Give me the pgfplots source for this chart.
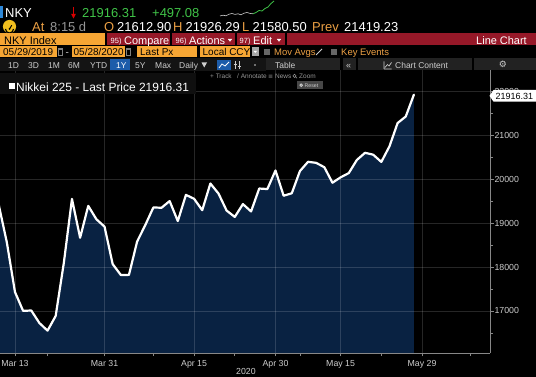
\documentclass[border=0pt]{standalone}
\usepackage{fontspec}
\setmainfont{Liberation Sans}
\newfontfamily\dejavu{DejaVu Sans}
\usepackage{pgfplots}
\pgfplotsset{compat=1.18}
\usepackage{pgfplotstable}
\definecolor{navy}{RGB}{9,34,66}
\definecolor{bbred}{RGB}{150,24,40}
\definecolor{bborange}{RGB}{246,166,52}
\definecolor{amber}{RGB}{236,160,68}
\definecolor{bbgreen}{RGB}{64,196,72}
\definecolor{lgrey}{RGB}{205,205,205}
\definecolor{mgrey}{RGB}{150,150,150}
\definecolor{axisgrey}{RGB}{135,135,135}
\definecolor{bblue}{RGB}{45,135,215}
\definecolor{selblue}{RGB}{28,92,170}
\definecolor{rowbg}{RGB}{20,20,20}
\definecolor{rowbgr}{RGB}{34,34,34}
\definecolor{gaugey}{RGB}{240,190,30}
\newcommand{\fs}[1]{\fontsize{#1}{#1}\selectfont}

\pgfplotstableread{
i v
-2 19416.67
-1 18559.63
0 17431.05
1 17002.04
2 17011.53
3 16726.55
4 16552.83
5 16887.78
6 18092.35
7 19546.63
8 18664.60
9 19389.43
10 19084.97
11 18917.01
12 18065.41
13 17818.72
14 17820.19
15 18576.30
16 18950.18
17 19353.24
18 19345.77
19 19498.50
20 19043.40
21 19638.81
22 19550.09
23 19290.20
24 19897.26
25 19669.12
26 19280.78
27 19137.95
28 19429.44
29 19262.00
30 19783.22
31 19771.19
32 20193.69
33 19619.35
34 19674.77
35 20179.09
36 20390.66
37 20366.48
38 20267.05
39 19914.78
40 20037.47
41 20133.73
42 20433.45
43 20595.15
44 20552.31
45 20388.16
46 20741.65
47 21271.17
48 21419.23
49 21916.31
}\nky

\pgfplotstableread{
x h
220 2.0
223 2.8
226 2.2
229 3.8
232 4.5
235 3.6
238 4.2
241 3.2
244 4.8
247 5.5
250 4.6
253 4.2
}\sparkA
\pgfplotstableread{
x h
253 4.2
256 5.5
259 7.5
262 7.0
265 9.5
268 11.0
271 14.5
274 17.0
}\sparkB

\begin{document}
\begin{tikzpicture}[x=1bp,y=1bp]
\path[use as bounding box] (0bp,0bp) rectangle (536bp,377bp);
\fill[black] (0bp,0bp) rectangle (536bp,377bp);
\clip (0bp,0bp) rectangle (536bp,377bp);

\begin{axis}[
  at={(0bp,24bp)}, anchor=south west, scale only axis,
  width=490bp, height=283bp,
  xmin=-1.84, xmax=58.35, ymin=16045, ymax=22477,
  axis on top,
  scaled x ticks=false, scaled y ticks=false,
  axis x line*=bottom, axis y line*=right,
  axis line style={draw=axisgrey, line width=0.8bp},
  xtick={0,11,22,32,40,50},
  xticklabels={Mar 13,Mar 31,Apr 15,Apr 30,May 15,May 29},
  minor xtick={4,17,27,35,45,56},
  ytick={17000,18000,19000,20000,21000,22000},
  yticklabels={17000,18000,19000,20000,21000,22000},
  minor ytick={16500,17500,18500,19500,20500,21500},
  tick align=outside,
  major tick length=3.5bp, minor tick length=3bp,
  tick style={draw=axisgrey, line width=0.8bp},
  xmajorgrids, ymajorgrids,
  major grid style={draw=white, opacity=0.15, line width=0.6bp},
  tick label style={font=\fs{8.8}, text=lgrey},
  yticklabel style={xshift=-2.5bp},
]
\addplot[fill=navy, draw=none] table[x=i,y=v]{\nky} \closedcycle;
\addplot[white, line width=2.2bp, line join=round, line cap=round] table[x=i,y=v]{\nky};
\end{axis}

\begin{axis}[at={(213bp,359bp)}, anchor=south west, scale only axis,
  width=62bp, height=18bp, xmin=213, xmax=275, ymin=0, ymax=18,
  hide axis, clip=false]
\addplot[lgrey, line width=0.6bp] table[x=x,y=h]{\sparkA};
\addplot[bbgreen, line width=0.8bp] table[x=x,y=h]{\sparkB};
\end{axis}

\begin{scope}[x=1bp,y=-1bp,shift={(0,-377)}]
 \tikzset{t/.style={anchor=base west, inner sep=0pt}}
 % row 1
 \fill[bblue] (0.5,6) rectangle (3.5,18.5);
 \node[t, font=\fs{13}, text=white] at (5,17.5) {NKY};
 \draw[red!85!black, line width=1bp] (73.5,7) -- (73.5,15);
 \fill[red!85!black] (71.2,14) -- (75.8,14) -- (73.5,18.5) -- cycle;
 \node[t, font=\fs{13}, text=bbgreen] at (82,17.5) {21916.31};
 \node[t, font=\fs{13}, text=bbgreen] at (152,17.5) {+497.08};
 % row 2
 \fill[gaugey] (9.5,26.5) circle (6.6);
 \draw[black, line width=1.1bp] (5.5,29) arc (180:360:4 and -4);
 \draw[black, line width=1bp] (9.5,29) -- (11.8,25.2);
 \fill[black] (9.5,29) circle (1);
 \node[t, font=\fs{13}, text=amber] at (32,31) {At};
 \node[t, font=\fs{13}, text=mgrey] at (50,31) {8:15 d};
 \node[t, font=\fs{13}, text=amber] at (104,31) {O};
 \node[t, font=\fs{13}, text=white] at (117,31) {21612.90};
 \node[t, font=\fs{13}, text=amber] at (173,31) {H};
 \node[t, font=\fs{13}, text=white] at (185.5,31) {21926.29};
 \node[t, font=\fs{13}, text=amber] at (242,31) {L};
 \node[t, font=\fs{13}, text=white] at (252.5,31) {21580.50};
 \node[t, font=\fs{13}, text=amber] at (312,31) {Prev};
 \node[t, font=\fs{13}, text=white] at (344,31) {21419.23};
 % row 3
 \fill[bborange] (0,33) rectangle (105,45.5);
 \node[t, font=\fs{11}, text=black] at (4,44) {NKY Index};
 \fill[bbred] (107,33) rectangle (170,45.5);
 \fill[bbred] (172,33) rectangle (235,45.5);
 \fill[bbred] (237,33) rectangle (285,45.5);
 \fill[bbred] (287,33) rectangle (536,45.5);
 \node[t, font=\fs{7.5}, text=white] at (110.5,43.5) {95)};
 \node[t, font=\fs{11}, text=white] at (124,44) {Compare};
 \node[t, font=\fs{7.5}, text=white] at (175.5,43.5) {96)};
 \node[t, font=\fs{11}, text=white] at (189,44) {Actions};
 \fill[white] (227.8,39) -- (232.2,39) -- (230,41.6) -- cycle;
 \node[t, font=\fs{7.5}, text=white] at (239.5,43.5) {97)};
 \node[t, font=\fs{11}, text=white] at (253,44) {Edit};
 \fill[white] (276.8,39) -- (281.2,39) -- (279,41.6) -- cycle;
 \node[anchor=base east, inner sep=0pt, font=\fs{11}, text=white] at (527,44) {Line Chart};
 % row 4
 \fill[bborange] (0,46.5) rectangle (57,57);
 \node[t, font=\fs{10}, text=black] at (3,55.8) {05/29/2019};
 \fill[gray] (58,48.5) rectangle (63,56); \fill[black] (58.8,50.5) rectangle (62.2,55.2);
 \node[t, font=\fs{10}, text=lgrey] at (65.5,55.8) {-};
 \fill[bborange] (72,46.5) rectangle (125,57);
 \node[t, font=\fs{10}, text=black] at (73.5,55.8) {05/28/2020};
 \fill[gray] (126,48.5) rectangle (131,56); \fill[black] (126.8,50.5) rectangle (130.2,55.2);
 \fill[bborange] (137,46.5) rectangle (197,57);
 \node[t, font=\fs{10}, text=black] at (140,55.8) {Last Px};
 \fill[bborange] (200,46.5) rectangle (250,57);
 \node[t, font=\fs{10}, text=black] at (202.5,55.8) {Local CCY};
 \fill[gray!70] (252,47) rectangle (258.5,56.5);
 \fill[white] (253.4,50.8) -- (257.1,50.8) -- (255.25,53) -- cycle;
 \fill[gray!80!black] (264,48.8) rectangle (269.8,54.6);
 \node[t, font=\fs{9.5}, text=amber] at (274,55.8) {Mov Avgs};
 \draw[lgrey, line width=1bp] (316,55) -- (322,49);
 \fill[gray!80!black] (331,48.8) rectangle (336.8,54.6);
 \node[t, font=\fs{9.5}, text=amber] at (341,55.8) {Key Events};
 % row 5
 \fill[rowbg] (0,58) rectangle (266,71);
 \fill[rowbgr] (266,58.5) rectangle (340,70.5);
 \fill[rowbgr] (343,58.5) rectangle (356,70.5);
 \fill[rowbgr] (358,58.5) rectangle (472,70.5);
 \fill[rowbgr] (474,58.5) rectangle (536,70.5);
 \fill[selblue] (110,59.5) rectangle (130,70.5);
 \node[t, font=\fs{8.5}, text=lgrey] at (8,68.5) {1D};
 \node[t, font=\fs{8.5}, text=lgrey] at (28,68.5) {3D};
 \node[t, font=\fs{8.5}, text=lgrey] at (48,68.5) {1M};
 \node[t, font=\fs{8.5}, text=lgrey] at (68,68.5) {6M};
 \node[t, font=\fs{8.5}, text=lgrey] at (90,68.5) {YTD};
 \node[t, font=\fs{8.5}, text=white] at (116,68.5) {1Y};
 \node[t, font=\fs{8.5}, text=lgrey] at (135,68.5) {5Y};
 \node[t, font=\fs{8.5}, text=lgrey] at (155,68.5) {Max};
 \node[t, font=\fs{8.5}, text=lgrey] at (179,68.5) {Daily};
 \fill[lgrey] (201.5,62.5) -- (207,62.5) -- (204.25,67.5) -- cycle;
 \fill[selblue] (217,60) rectangle (231,70.5);
 \draw[white, line width=0.8bp] (219,68) -- (222,64) -- (225,66) -- (229,62);
 \draw[lgrey, line width=0.7bp] (235,61.5) -- (235,69) (239,61.5) -- (239,69) (233.5,64) -- (236.5,64) (237.5,66.5) -- (240.5,66.5);
 \fill[lgrey] (255,65) circle (0.9);
 \node[t, font=\fs{8.5}, text=lgrey] at (275,68.5) {Table};
 \node[t, font=\fs{9}, text=lgrey] at (346,68.5) {«};
 \draw[lgrey, line width=0.7bp] (384,69) -- (384,61.5) (384,69) -- (391.5,69) (385,67.5) -- (387.5,64.5) -- (389,66) -- (391.5,62.5);
 \node[t, font=\fs{8.5}, text=lgrey] at (395,68.5) {Chart Content};
 \node[anchor=center, inner sep=0pt, font={\dejavu\fs{9}}, text=lgrey] at (503,64.5) {⚙};
 % row 6 tool text
 \node[t, font=\fs{6.5}, text=mgrey] at (210,78.5) {+ Track};
 \node[t, font=\fs{6.5}, text=mgrey] at (237,78.5) {/ Annotate};
 \node[t, font={\dejavu\fs{6}}, text=mgrey] at (268,78.5) {≡};
 \node[t, font=\fs{6.5}, text=mgrey] at (275,78.5) {News};
 \draw[mgrey, line width=0.5bp] (294.5,75.8) circle (1.6) (295.7,77) -- (297,78.3);
 \node[t, font=\fs{6.5}, text=mgrey] at (299,78.5) {Zoom};
 % legend
 \fill[black!94!white] (0,73) rectangle (196,94);
 \fill[white] (9,83.5) rectangle (14.5,89);
 \node[t, font=\fs{12}, text=white] at (16,91) {Nikkei 225 - Last Price 21916.31};
 % reset button
 \fill[black!72!white] (297,81.5) rectangle (322.5,89);
 \draw[lgrey, line width=0.9bp] (301.2,85.2) circle (1.3);
 \node[t, font=\fs{5.2}, text=lgrey] at (304.5,87.4) {Reset};
 % last price tag
 \fill[white] (489.5,95.8) -- (493.5,90) -- (535.8,90) -- (535.8,101.6) -- (493.5,101.6) -- cycle;
 \node[t, font=\fs{9}, text=black] at (495.5,99.6) {21916.31};
 % year
 \node[anchor=base, inner sep=0pt, font=\fs{8.8}, text=lgrey] at (246,374) {2020};
\end{scope}
\end{tikzpicture}
\end{document}
